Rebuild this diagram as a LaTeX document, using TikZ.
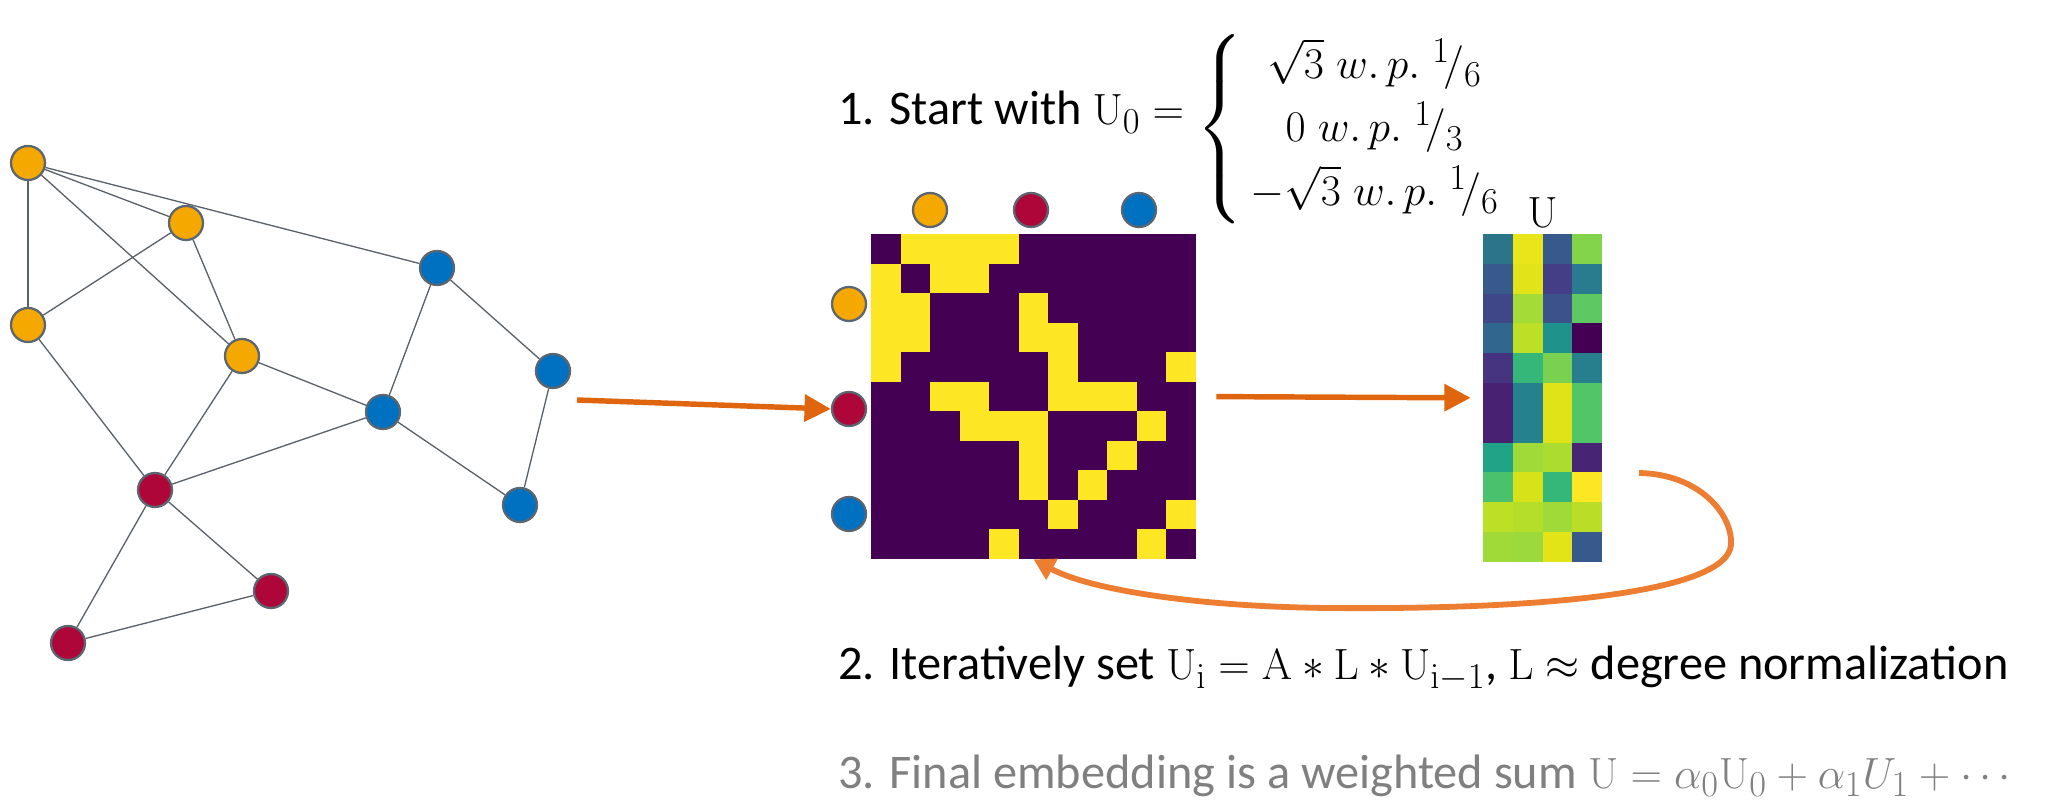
\documentclass[tikz,border=0pt]{standalone}
\usepackage{amsmath,amssymb}
\usepackage[no-math]{fontspec}
\setmainfont{Carlito}
\usepackage{xcolor}
\definecolor{accent}{HTML}{ED7D31}
\definecolor{ink}{HTML}{000000}
\usetikzlibrary{calc,arrows.meta,positioning}

\begin{document}
\begin{tikzpicture}[x=0.02cm, y=-0.02cm, >=Stealth,
    vertex/.style={circle, draw=rimCol, line width=1.3pt, minimum size=0.68cm, inner sep=0pt},
    edgeLine/.style={draw=edgeCol, line width=0.75pt},
    flowArrow/.style={draw=flowCol, line width=3.1pt, -{Triangle[length=15pt, width=15pt]}},
    loopArrow/.style={draw=accent, line width=3.3pt, -{Triangle[length=12pt, width=13pt]}},
    stepText/.style={inner sep=0pt, font=\fontsize{27.5}{33}\selectfont}]
    % Parameters
    \def\matX{871}   % Adjacency matrix, left
    \def\matY{234}   % Adjacency matrix, top
    \def\cell{29.545} % Cell size
    \def\embX{1483}  % Embedding, left
    \def\embY{234}   % Embedding, top
    \def\ecellW{29.75}
    \def\ecellH{29.8}

    % Colors
    \definecolor{rimCol}{HTML}{5B6670}
    \definecolor{edgeCol}{HTML}{5A6168}
    \definecolor{goldCol}{HTML}{F5A800}
    \definecolor{redCol}{HTML}{AE0639}
    \definecolor{blueCol}{HTML}{0070C0}
    \definecolor{flowCol}{HTML}{E0650F}
    \definecolor{adjPurple}{HTML}{440154}
    \definecolor{adjYellow}{HTML}{FDE725}
    \definecolor{fadeCol}{HTML}{808080}

    \useasboundingbox (0,0) rectangle (2050,803);

    % Graph
    \node[vertex, fill=goldCol] (O1) at (28,163) {};
    \node[vertex, fill=goldCol] (O2) at (186,223) {};
    \node[vertex, fill=goldCol] (O3) at (28,325) {};
    \node[vertex, fill=goldCol] (O4) at (242,356) {};
    \node[vertex, fill=blueCol] (B1) at (437,268) {};
    \node[vertex, fill=blueCol] (B2) at (553,371) {};
    \node[vertex, fill=blueCol] (B3) at (383,412) {};
    \node[vertex, fill=blueCol] (B4) at (520,505) {};
    \node[vertex, fill=redCol] (R1) at (155,490) {};
    \node[vertex, fill=redCol] (R2) at (271,591) {};
    \node[vertex, fill=redCol] (R3) at (68,643) {};

    \foreach \u/\v in {O1/O2, O1/O3, O1/O4, O1/B1, O2/O3, O2/O4, O3/R1, O4/R1, O4/B3,
                       B1/B3, B1/B2, B2/B4, B3/B4, B3/R1, R1/R2, R1/R3, R2/R3} {
        \draw[edgeLine] (\u) -- (\v);
    }

    % Adjacency matrix
    \node[inner sep=0pt, minimum width=6.5cm, minimum height=6.5cm, fill=adjPurple]
        (Amat) at ({\matX+5.5*\cell}, {\matY+5.5*\cell}) {};
    \foreach \rowBits [count=\r from 0] in {
        {0,1,1,1,1,0,0,0,0,0,0},
        {1,0,1,1,0,0,0,0,0,0,0},
        {1,1,0,0,0,1,0,0,0,0,0},
        {1,1,0,0,0,1,1,0,0,0,0},
        {1,0,0,0,0,0,1,0,0,0,1},
        {0,0,1,1,0,0,1,1,1,0,0},
        {0,0,0,1,1,1,0,0,0,1,0},
        {0,0,0,0,0,1,0,0,1,0,0},
        {0,0,0,0,0,1,0,1,0,0,0},
        {0,0,0,0,0,0,1,0,0,0,1},
        {0,0,0,0,1,0,0,0,0,1,0}} {
        \foreach \bit [count=\c from 0] in \rowBits {
            \ifnum\bit=1
                \fill[adjYellow] ({\matX+\c*\cell}, {\matY+\r*\cell}) rectangle ++(\cell,\cell);
            \fi
        }
    }

    % Cluster markers on the matrix
    \node[vertex, fill=goldCol] (colO) at (930,210) {};
    \node[vertex, fill=redCol] (colR) at (1031,210) {};
    \node[vertex, fill=blueCol] (colB) at (1139,210) {};
    \node[vertex, fill=goldCol] (rowO) at (849,304) {};
    \node[vertex, fill=redCol] (rowR) at (849,409) {};
    \node[vertex, fill=blueCol] (rowB) at (849,514) {};

    % Embedding U
    \node[inner sep=0pt, minimum width=2.38cm, minimum height=6.556cm]
        (Umat) at ({\embX+2*\ecellW}, {\embY+5.5*\ecellH}) {};
    \foreach \rowCols [count=\r from 0] in {
        {2C7589,EAE51A,38598C,84D44B},
        {37598C,E2E318,433E85,287C8E},
        {3F4788,A5DB36,3B528B,5EC962},
        {31668E,BDDF26,20928C,440154},
        {463480,35B779,7AD151,277F8E},
        {482173,26818E,DFE318,52C569},
        {482173,26818E,DFE318,52C569},
        {20A386,A0DA39,ADDC30,482475},
        {4AC16D,D8E219,35B779,FDE725},
        {BDDF26,B5DE2B,A0DA39,BADE28},
        {A0DA39,9BD93C,E2E418,38598C}} {
        \foreach \hex [count=\c from 0] in \rowCols {
            \definecolor{cellCol}{HTML}{\hex}
            \fill[cellCol] ({\embX+\c*\ecellW}, {\embY+\r*\ecellH}) rectangle ++(\ecellW,\ecellH);
        }
    }
    \node[stepText, font=\fontsize{31}{36}\selectfont, above=0.12cm of Umat] (Ulabel) {$\mathrm{U}$};

    % Arrows
    \coordinate (gOut) at (577,400);
    \draw[flowArrow] (gOut) -- (rowR.west);
    \draw[flowArrow, shorten <=0.4cm, shorten >=0.24cm] (Amat.east) -- (Umat.west);

    \coordinate (loopStart) at (1639,473);
    \draw[loopArrow] (loopStart) .. controls (1700,474) and (1733,515) .. (1731,545)
        .. controls (1727,590) and (1560,610) .. (1330,608)
        .. controls (1200,607) and (1090,590) .. (Amat.south);

    % Steps
    \node[stepText, anchor=base west] (step1) at (838,125)
        {1. Start with $\mathrm{U}_0 =\;$\raisebox{-0.3cm}{\fontsize{30}{34}\selectfont
            $\delimiterfactor=800 \delimitershortfall=18pt
            \renewcommand{\arraystretch}{1.06}\left\{\begin{array}{@{\,}c}
            \sqrt{3}\; w.\,p.\; {}^{1}\!/_{6} \\
            0\; w.\,p.\; {}^{1}\!/_{3} \\
            -\sqrt{3}\; w.\,p.\; {}^{1}\!/_{6}
        \end{array}\right.$}};
    \node[stepText, anchor=base west] (step2) at (838,680)
        {2. Iteratively set $\mathrm{U_i} = \mathrm{A} * \mathrm{L} * \mathrm{U_{i-1}}$, $\mathrm{L} \approx$ degree normalization};
    \node[stepText, anchor=base west, text=fadeCol] (step3) at (838,788)
        {3. Final embedding is a weighted sum $\mathrm{U} = \alpha_0 \mathrm{U}_0 + \alpha_1 U_1 + \cdots$};
\end{tikzpicture}
\end{document}
